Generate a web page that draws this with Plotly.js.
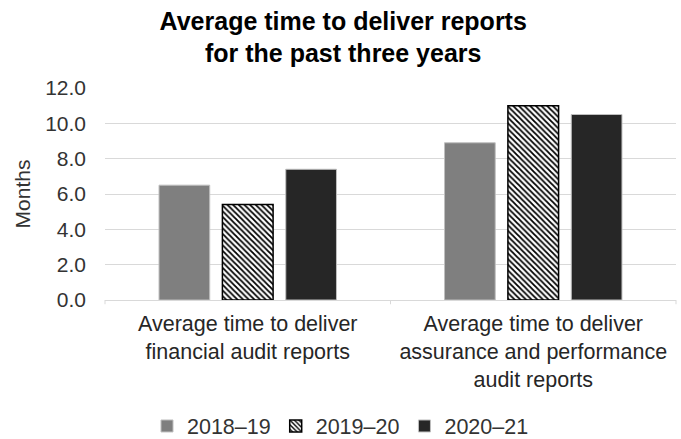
<!DOCTYPE html>
<html>
<head>
<meta charset="utf-8">
<script src="https://cdn.plot.ly/plotly-3.0.1.min.js"></script>
<style>html,body{margin:0;padding:0;background:#fff;}#chart{width:681px;height:439px;}</style>
</head>
<body>
<div id="chart"></div>
<script>
const categories = [
  "Average time to deliver<br>financial audit reports",
  "Average time to deliver<br>assurance and performance<br>audit reports"
];
const seriesNames = ["2018\u201319", "2019\u201320", "2020\u201321"];
const values2018_19 = [6.5, 8.9];
const values2019_20 = [5.4, 11.0];
const values2020_21 = [7.4, 10.5];
const yTickVals = [0, 2, 4, 6, 8, 10, 12];
const yTickText = ["0.0", "2.0", "4.0", "6.0", "8.0", "10.0", "12.0"];
const titleText = "Average time to deliver reports<br>for the past three years";

const font = "Liberation Sans, Arial, sans-serif";

const traces = [
  {
    type: "bar", name: seriesNames[0], x: categories, y: values2018_19,
    marker: {color: "#7f7f7f", line: {color: "#bfbfbf", width: 1}},
    hoverinfo: "skip"
  },
  {
    type: "bar", name: seriesNames[1], x: categories, y: values2019_20,
    marker: {
      color: "#ffffff",
      pattern: {shape: "\\", fgcolor: "#000000", bgcolor: "#ffffff", size: 4, solidity: 0.45},
      line: {color: "#000000", width: 1.5}
    },
    hoverinfo: "skip"
  },
  {
    type: "bar", name: seriesNames[2], x: categories, y: values2020_21,
    marker: {color: "#262626", line: {color: "#bfbfbf", width: 1}},
    hoverinfo: "skip"
  }
];

const layout = {
  width: 681, height: 439,
  margin: {l: 105, r: 5, t: 88, b: 139},
  paper_bgcolor: "#ffffff", plot_bgcolor: "#ffffff",
  font: {family: font, color: "#333333", size: 21},
  barmode: "group",
  bargap: 0.334,
  bargroupgap: 0.2,
  title: {
    text: "<b>" + titleText + "</b>",
    font: {family: font, size: 25, color: "#000000"},
    x: 0.504, xref: "container", xanchor: "center",
    y: 1 - 29.5 / 439, yref: "container", yanchor: "middle"
  },
  xaxis: {
    type: "category",
    showline: true, linecolor: "#d9d9d9", linewidth: 1,
    ticks: "", showgrid: false,
    ticklabelstandoff: 4,
    tickfont: {family: font, size: 21.5, color: "#262626"},
    fixedrange: true
  },
  yaxis: {
    range: [0, 12],
    tickvals: yTickVals, ticktext: yTickText,
    showgrid: true, gridcolor: "#d9d9d9", gridwidth: 1,
    zeroline: false, showline: false,
    ticks: "", ticklabelstandoff: 18,
    tickfont: {family: font, size: 21, color: "#333333"},
    title: {text: "Months", font: {family: font, size: 21, color: "#333333"}, standoff: 8},
    fixedrange: true
  },
  showlegend: true,
  legend: {
    orientation: "h",
    xref: "container", x: 0.5, xanchor: "center",
    yref: "container", y: 1 - 426 / 439, yanchor: "middle",
    font: {family: font, size: 21.5, color: "#333333"},
    itemwidth: 30,
    traceorder: "normal"
  },
  shapes: [
    {type: "line", xref: "x domain", yref: "paper", x0: 0, x1: 0, y0: 0, y1: -0.02, line: {color: "#d9d9d9", width: 1}},
    {type: "line", xref: "x domain", yref: "paper", x0: 0.5, x1: 0.5, y0: 0, y1: -0.02, line: {color: "#d9d9d9", width: 1}},
    {type: "line", xref: "x domain", yref: "paper", x0: 1, x1: 1, y0: 0, y1: -0.02, line: {color: "#d9d9d9", width: 1}}
  ]
};

Plotly.newPlot("chart", traces, layout, {displayModeBar: false, staticPlot: true});
</script>
</body>
</html>
